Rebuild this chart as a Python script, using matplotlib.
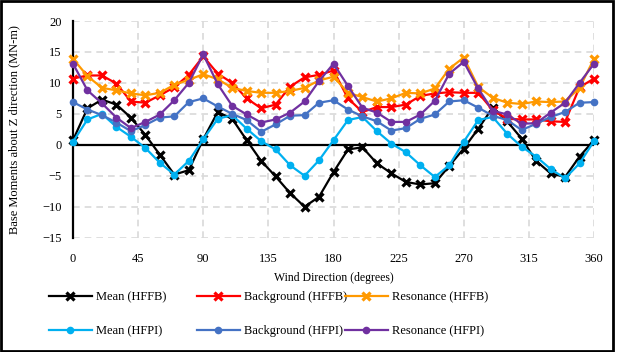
import matplotlib
matplotlib.use("Agg")
import matplotlib.pyplot as plt
from matplotlib.patches import Rectangle

plt.rcParams['font.family'] = ['Liberation Serif', 'DejaVu Serif']

# Wind directions (degrees)
directions = list(range(0, 361, 10))

# Base moments about Z direction (MN-m)
mean_hffb = [0.75, 5.9, 7.3, 6.5, 4.4, 1.6, -1.6, -4.8, -4.1, 0.9,
             5.3, 4.2, 0.75, -2.6, -5.1, -7.8, -10.0, -8.4, -4.4, -0.75,
             -0.4, -3.0, -4.6, -6.0, -6.4, -6.2, -3.4, -0.6, 2.6, 6.0,
             3.8, 1.0, -2.6, -4.6, -5.2, -1.9, 0.75]
background_hffb = [10.7, 11.2, 11.2, 9.9, 7.0, 6.8, 8.0, 9.3, 11.3, 14.3,
                   11.5, 10.0, 7.5, 5.9, 6.5, 9.4, 10.9, 11.3, 12.0, 7.5,
                   5.3, 6.1, 6.1, 6.5, 7.9, 8.3, 8.5, 8.4, 8.4, 5.6,
                   4.2, 4.1, 4.1, 3.8, 3.7, 9.3, 10.7]
resonance_hffb = [13.9, 11.1, 9.2, 8.8, 8.3, 8.0, 8.4, 9.7, 10.5, 11.4,
                  10.6, 9.2, 8.7, 8.4, 8.4, 8.7, 9.2, 10.4, 11.0, 8.4,
                  7.7, 7.0, 7.5, 8.4, 8.3, 9.1, 12.3, 14.1, 9.35, 7.6,
                  6.8, 6.6, 7.0, 6.9, 7.0, 9.2, 13.9]
mean_hfpi = [0.5, 4.1, 5.0, 2.9, 1.3, -0.5, -2.9, -4.8, -2.6, 0.9,
             4.2, 4.8, 2.6, 0.6, -0.75, -3.3, -5.0, -2.5, 0.75, 4.0,
             4.5, 2.2, 0.2, -1.2, -3.3, -5.2, -3.3, 0.5, 4.0, 4.5,
             1.8, -0.3, -1.9, -3.9, -5.4, -3.0, 0.6]
background_hfpi = [6.9, 5.7, 4.8, 3.6, 2.2, 3.2, 4.4, 4.6, 6.9, 7.5,
                   6.2, 5.0, 4.0, 2.1, 3.3, 4.7, 4.8, 6.8, 7.2, 5.7,
                   4.6, 3.8, 2.3, 2.7, 4.2, 4.9, 7.0, 7.2, 6.0, 4.7,
                   4.0, 2.4, 3.4, 4.5, 5.3, 6.8, 6.9]
resonance_hfpi = [13.1, 8.8, 6.7, 4.4, 2.7, 3.7, 4.9, 7.2, 10.0, 14.6,
                  9.8, 6.3, 4.9, 3.6, 4.1, 5.2, 7.0, 10.3, 13.1, 9.5,
                  6.0, 5.2, 3.7, 3.7, 4.9, 7.1, 11.5, 13.4, 9.1, 5.5,
                  4.9, 3.4, 3.5, 5.2, 6.8, 10.0, 13.1]

x_ticks = [0, 45, 90, 135, 180, 225, 270, 315, 360]
y_ticks = [-15, -10, -5, 0, 5, 10, 15, 20]

series = [
    ("Mean (HFFB)", mean_hffb, "#000000", "x"),
    ("Background (HFFB)", background_hffb, "#FF0000", "x"),
    ("Resonance (HFFB)", resonance_hffb, "#FF9900", "x"),
    ("Mean (HFPI)", mean_hfpi, "#00B0F0", "o"),
    ("Background (HFPI)", background_hfpi, "#4472C4", "o"),
    ("Resonance (HFPI)", resonance_hfpi, "#7030A0", "o"),
]

W, H = 617, 352
fig = plt.figure(figsize=(W / 100, H / 100), dpi=100)
ax = fig.add_axes([73 / W, 1 - 237.7 / H, (594 - 73) / W, (237.7 - 21) / H])

handles = {}
for label, vals, color, mk in series:
    if mk == "x":
        kw = dict(marker="x", markersize=5.5, markeredgewidth=2.3)
    else:
        kw = dict(marker="o", markersize=5.5, markeredgewidth=0)
    (ln,) = ax.plot(directions, vals, color=color, linewidth=1.6,
                    label=label, zorder=3, clip_on=False, **kw)
    handles[label] = ln

ax.set_xlim(0, 360)
ax.set_ylim(-15, 20)
ax.set_xticks(x_ticks)
ax.set_yticks(y_ticks)
ax.grid(True, color="#D9D9D9", linestyle=(0, (4, 3)), linewidth=1.2, zorder=0)
ax.set_axisbelow(True)
for s in ["top", "right", "bottom"]:
    ax.spines[s].set_visible(False)
ax.spines["left"].set_linewidth(1.6)
ax.spines["left"].set_color("black")
ax.axhline(0, color="black", linewidth=1.6, zorder=2)
ax.tick_params(axis="x", length=0, labelsize=9, pad=11)
ax.tick_params(axis="y", length=0, labelsize=9, pad=8)

ax.set_xlabel("Wind Direction (degrees)", fontsize=8.5, labelpad=5)
ax.set_ylabel("Base Moments about Z direction (MN-m)", fontsize=9, labelpad=16)

# Legend laid out in three fixed-width columns
columns = [
    (49, ["Mean (HFFB)", "Mean (HFPI)"]),
    (197, ["Background (HFFB)", "Background (HFPI)"]),
    (345, ["Resonance (HFFB)", "Resonance (HFPI)"]),
]
for xpx, labels in columns:
    fig.legend([handles[l] for l in labels], labels,
               loc="center left", bbox_to_anchor=(xpx / W, 1 - 314 / H),
               frameon=False, fontsize=9, handlelength=3.4,
               handletextpad=0.35, labelspacing=1.75, borderpad=0,
               borderaxespad=0, numpoints=1)

fig.patches.append(Rectangle((0.0015, 0.002), 0.992, 0.996, transform=fig.transFigure,
                             fill=False, edgecolor="black", linewidth=2))

fig.savefig("out.png", dpi=100)
